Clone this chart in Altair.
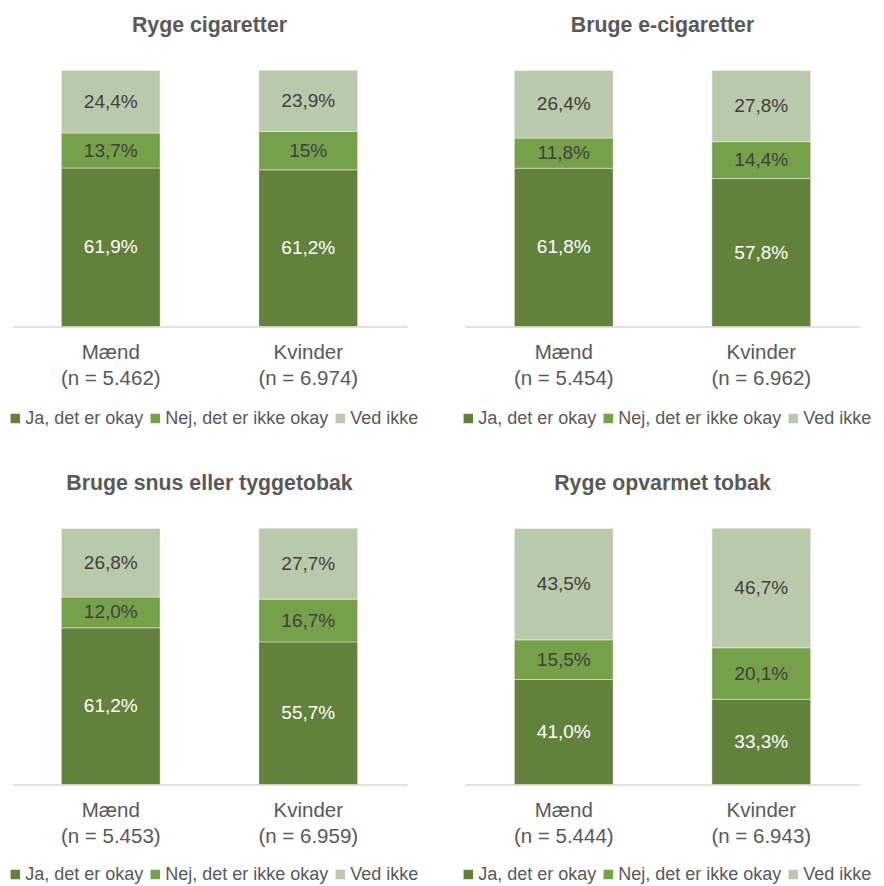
import altair as alt
import pandas as pd

titles = ["Ryge cigaretter", "Bruge e-cigaretter",
          "Bruge snus eller tyggetobak", "Ryge opvarmet tobak"]
groups = ["Mænd", "Kvinder"]
n_values = [["5.462", "6.974"], ["5.454", "6.962"],
            ["5.453", "6.959"], ["5.444", "6.943"]]
responses = ["Ja, det er okay", "Nej, det er ikke okay", "Ved ikke"]

ja_values = [[61.9, 61.2], [61.8, 57.8], [61.2, 55.7], [41.0, 33.3]]
nej_values = [[13.7, 15.0], [11.8, 14.4], [12.0, 16.7], [15.5, 20.1]]
ved_values = [[24.4, 23.9], [26.4, 27.8], [26.8, 27.7], [43.5, 46.7]]

ja_labels = [["61,9%", "61,2%"], ["61,8%", "57,8%"], ["61,2%", "55,7%"], ["41,0%", "33,3%"]]
nej_labels = [["13,7%", "15%"], ["11,8%", "14,4%"], ["12,0%", "16,7%"], ["15,5%", "20,1%"]]
ved_labels = [["24,4%", "23,9%"], ["26,4%", "27,8%"], ["26,8%", "27,7%"], ["43,5%", "46,7%"]]

colors = ["#62823B", "#77A04A", "#B9C9AB"]
FONT = "Liberation Sans"
GRAY = "#595959"


def panel(i):
    rows = []
    cats = []
    series = [(ja_values, ja_labels), (nej_values, nej_labels), (ved_values, ved_labels)]
    for g in range(2):
        cat = f"{groups[g]}\n(n = {n_values[i][g]})"
        cats.append(cat)
        for r, (vals, labs) in enumerate(series):
            rows.append(dict(cat=cat, resp=responses[r], idx=r,
                             value=vals[i][g], label=labs[i][g]))
    df = pd.DataFrame(rows)

    base = alt.Chart(df).transform_stack(
        stack="value", groupby=["cat"],
        sort=[alt.SortField("idx", order="ascending")], as_=["y0", "y1"]
    ).transform_calculate(ymid="(datum.y0 + datum.y1) / 2")

    x = alt.X("cat:N", sort=cats,
              scale=alt.Scale(paddingInner=0.5, paddingOuter=0.25),
              axis=alt.Axis(title=None, labelAngle=0, ticks=False,
                            labelExpr="split(datum.label, '\\n')",
                            labelFont=FONT, labelFontSize=20.5, labelColor=GRAY,
                            labelLineHeight=26, labelPadding=16,
                            domainColor="#D9D9D9", domainWidth=1.5))
    yscale = alt.Scale(domain=[0, 100], nice=False)

    legend_y = 339 if i < 2 else 337
    bars = base.mark_bar(stroke="white", strokeWidth=0.8, strokeOpacity=0.5).encode(
        x=x,
        y=alt.Y("y0:Q", scale=yscale, axis=None),
        y2="y1:Q",
        color=alt.Color("resp:N", scale=alt.Scale(domain=responses, range=colors),
                        legend=alt.Legend(orient="none", legendX=-5.7, legendY=legend_y,
                                          direction="horizontal",
                                          title=None, symbolType="square",
                                          symbolSize=90, symbolStrokeWidth=0,
                                          labelFont=FONT, labelFontSize=18.0,
                                          labelColor=GRAY, columnPadding=2,
                                          labelOffset=1, padding=0,
                                          labelLimit=400)),
        order=alt.Order("idx:Q", sort="ascending"),
    )
    text = base.mark_text(font=FONT, fontSize=19).encode(
        x=x,
        y=alt.Y("ymid:Q", scale=yscale, axis=None),
        text="label:N",
        color=alt.condition("datum.idx == 0", alt.value("white"), alt.value("#404040")),
    )
    return alt.layer(bars, text).properties(
        width=395, height=256,
        title=alt.TitleParams(titles[i], font=FONT, fontSize=21.3, fontWeight="bold",
                              color=GRAY, offset=33.5, anchor="middle"),
    )


chart = alt.concat(
    *[panel(i) for i in range(4)], columns=2,
    spacing={"row": 202, "column": 58},
).properties(
    bounds="flush",
    padding={"left": -2, "top": 6.5, "right": 0, "bottom": 0},
).resolve_scale(
    color="independent", x="independent", y="independent"
).configure_view(stroke=None)

chart.save("out.html", embed_options={"renderer": "svg", "actions": False})
